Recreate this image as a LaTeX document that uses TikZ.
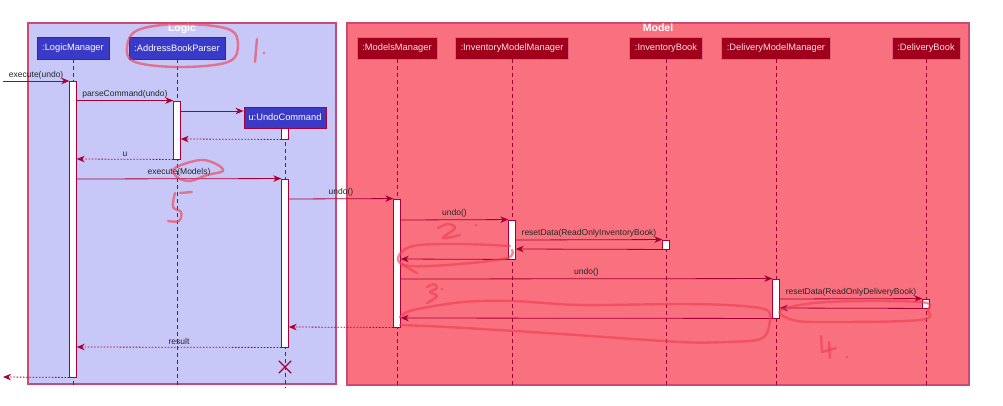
\documentclass[tikz,border=0pt]{standalone}
\usepackage{fontspec}
\setmainfont{Liberation Sans}
\usetikzlibrary{arrows.meta,shapes.misc}
\definecolor{crim}{HTML}{A80036}
\definecolor{logicfill}{HTML}{C8C8F8}
\definecolor{modelfill}{HTML}{F9707F}
\definecolor{framedraw}{HTML}{CC4A72}
\definecolor{lmfill}{HTML}{3A3AC8}
\definecolor{mmfill}{HTML}{A0001C}
\definecolor{mmdraw}{HTML}{E0607A}
\definecolor{mmtext}{HTML}{FFE0E6}
\definecolor{annot}{HTML}{EE3E50}
\begin{document}
\begin{tikzpicture}[x=1pt,y=-1pt,
  frame/.style={draw=framedraw, line width=1.1pt, inner sep=0pt},
  ftitle/.style={text=white, font=\fontsize{10.5}{12}\selectfont\bfseries, anchor=north, inner sep=0.8pt},
  plogic/.style={draw=crim, fill=lmfill, text=white, line width=0.9pt, minimum height=22pt, inner sep=0pt, font=\fontsize{9.3}{11}\selectfont},
  pmodel/.style={draw=mmdraw, fill=mmfill, text=mmtext, line width=0.9pt, minimum height=22pt, inner sep=0pt, font=\fontsize{9.3}{11}\selectfont},
  life/.style={draw=crim, line width=0.8pt, dash pattern=on 4pt off 3pt},
  act/.style={draw=crim, fill=white, line width=0.9pt, minimum width=6.5pt, inner sep=0pt},
  msg/.style={draw=crim, line width=0.8pt, -{Stealth[length=8pt,width=6.5pt,inset=2.5pt]}},
  ret/.style={msg, dash pattern=on 1.6pt off 1.6pt},
  lbl/.style={midway, anchor=south, inner sep=1.8pt, text=black!85, font=\fontsize{8.5}{10}\selectfont},
  ann/.style={draw=annot, draw opacity=0.62, line width=2.4pt, line cap=round, line join=round},
  anndot/.style={fill=annot, fill opacity=0.62}
]
\useasboundingbox (0,0) rectangle (1003,405);
\fill[white] (0,0) rectangle (1003,405);

% frames
\node[frame, fill=logicfill, minimum width=308pt, minimum height=361pt] (fLogic) at (182,203.5) {};
\node[ftitle] (tLogic) at (fLogic.north) {Logic};
\node[frame, fill=modelfill, minimum width=622pt, minimum height=362pt] (fModel) at (658,204) {};
\node[ftitle] (tModel) at (fModel.north) {Model};

% participants
\node[plogic, minimum width=72pt] (pLM) at (73,48) {:LogicManager};
\node[plogic, minimum width=96pt] (pAP) at (177,48) {:AddressBookParser};
\node[plogic, minimum width=82pt, minimum height=21pt] (pU) at (285,117.5) {u:UndoCommand};
\node[pmodel, minimum width=80pt] (pMM) at (397,48) {:ModelsManager};
\node[pmodel, minimum width=113pt] (pIMM) at (512,48) {:InventoryModelManager};
\node[pmodel, minimum width=73pt] (pIB) at (666,48) {:InventoryBook};
\node[pmodel, minimum width=109pt] (pDMM) at (776,48) {:DeliveryModelManager};
\node[pmodel, minimum width=68pt] (pDB) at (926,48) {:DeliveryBook};

% lifelines
\coordinate (bot) at (0,388);
\foreach \p in {pLM,pAP,pU,pMM,pIMM,pIB,pDMM,pDB}
  \draw[life] (\p.south) -- (\p.south |- bot);

% activations
\node[act, minimum height=296pt] (aLM) at (73,229) {};
\node[act, minimum height=58pt] (aAP) at (177,130) {};
\node[act, minimum height=11pt] (aU1) at (285,133.5) {};
\node[act, minimum height=168pt] (aU2) at (285,263) {};
\node[act, minimum height=128pt] (aMM) at (397,263) {};
\node[act, minimum height=39pt] (aIMM) at (512,239.5) {};
\node[act, minimum height=9pt] (aIB) at (666,244.5) {};
\node[act, minimum height=39pt] (aDMM) at (776,298.5) {};
\node[act, minimum height=9pt] (aDB) at (926,303.5) {};

% message rows
\coordinate (start) at (3,81);
\coordinate (endp) at (3,377);
\coordinate (m3) at (0,111);
\coordinate (m4) at (0,139);
\coordinate (m5) at (0,159);
\coordinate (m6) at (0,179);
\coordinate (m7) at (0,199);
\coordinate (m8) at (0,220);
\coordinate (m9) at (0,240);
\coordinate (m10) at (0,249);
\coordinate (m11) at (0,259);
\coordinate (m12) at (0,279);
\coordinate (m13) at (0,299);
\coordinate (m14) at (0,308);
\coordinate (m15) at (0,318);
\coordinate (m16) at (0,327);
\coordinate (m17) at (0,347);

\draw[msg] (start) -- node[lbl]{execute(undo)} (aLM.west |- start);
\draw[msg] (aLM.east |- aAP.north) -- node[lbl]{parseCommand(undo)} (aAP.north west);
\draw[msg] (aAP.east |- m3) -- (pU.west |- m3);
\draw[ret] (aU1.south west) -- (aAP.east |- m4);
\draw[ret] (aAP.south west) -- node[lbl]{u} (aLM.east |- m5);
\draw[msg] (aLM.east |- m6) -- node[lbl]{execute(Models)} (aU2.north west);
\draw[msg] (aU2.east |- m7) -- node[lbl]{undo()} (aMM.north west);
\draw[msg] (aMM.east |- m8) -- node[lbl]{undo()} (aIMM.north west);
\draw[msg] (aIMM.east |- m9) -- node[lbl]{resetData(ReadOnlyInventoryBook)} (aIB.north west);
\draw[msg] (aIB.south west) -- (aIMM.east |- m10);
\draw[msg] (aIMM.south west) -- (aMM.east |- m11);
\draw[msg] (aMM.east |- m12) -- node[lbl]{undo()} (aDMM.north west);
\draw[msg] (aDMM.east |- m13) -- node[lbl]{resetData(ReadOnlyDeliveryBook)} (aDB.north west);
\draw[msg] (aDB.south west) -- (aDMM.east |- m14);
\draw[msg] (aDMM.south west) -- (aMM.east |- m15);
\draw[ret] (aMM.south west) -- (aU2.east |- m16);
\draw[ret] (aU2.south west) -- node[lbl]{result} (aLM.east |- m17);
\draw[ret] (aLM.south west) -- (endp);

% destroy
\node[cross out, draw=crim, line width=1.3pt, minimum size=11pt, inner sep=0pt] (xU) at (285,367) {};

% hand annotations
\draw[ann] plot[smooth cycle, tension=0.6] coordinates {(127,47) (138,30) (180,24) (228,29) (238,45) (228,62) (180,67) (135,62)};
\draw[ann] (257,39) -- (255,62);
\fill[anndot] (264,53) circle (1.4);
\draw[ann] plot[smooth cycle, tension=0.6] coordinates {(175,168) (200,160) (216,164) (223,171) (207,175) (190,181) (177,177)};
\draw[ann] (180,193) -- (192,192);
\draw[ann] plot[smooth, tension=0.6] coordinates {(175,193) (173,207) (181,212) (179,221) (168,221)};
\draw[ann] plot[smooth, tension=0.6] coordinates {(510,246) (460,244) (413,246) (398,258) (410,266) (460,264) (507,258) (512,250)};
\draw[ann] (401,264) -- (417,273);
\draw[ann] plot[smooth, tension=0.6] coordinates {(438,228) (448,224) (455,228) (443,238) (460,235)};
\fill[anndot] (476,225) circle (1.4);
\draw[ann] plot[smooth, tension=0.6] coordinates {(427,287) (434,284) (437,288) (430,292) (437,296) (427,303)};
\fill[anndot] (442,289) circle (1.4);
\draw[ann] plot[smooth, tension=0.5] coordinates {(400,317) (413,310) (463,302) (513,301) (580,305) (680,304) (727,305) (760,308) (770,314) (767,333) (757,340) (727,342) (680,342) (547,333) (447,327) (400,325)};
\draw[ann] plot[smooth cycle, tension=0.6] coordinates {(781,310) (827,302) (920,302) (928,310) (920,320) (827,322) (793,320)};
\draw[ann] (821,336) -- (822,352) -- (836,348);
\draw[ann] (829,342) -- (830,358);
\fill[anndot] (847,357) circle (1.4);
\end{tikzpicture}
\end{document}
